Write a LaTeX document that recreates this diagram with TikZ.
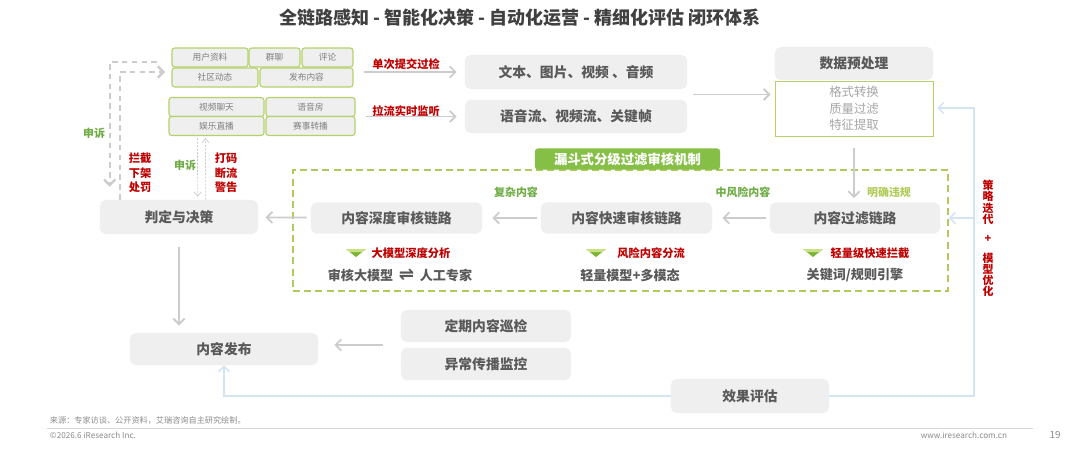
\documentclass[tikz,border=0pt]{standalone}
\usepackage{fontspec}
\setmainfont{Noto Sans CJK SC}
\newfontfamily\harpfont{DejaVu Sans}
\usetikzlibrary{arrows.meta,calc}

\definecolor{titleink}{HTML}{404040}
\definecolor{inkgray}{HTML}{595959}
\definecolor{cellink}{HTML}{7F7F7F}
\definecolor{softink}{HTML}{A6A6A6}
\definecolor{footink}{HTML}{8C8C8C}
\definecolor{boxgray}{HTML}{EFEFEF}
\definecolor{cellgreen}{HTML}{B4D16A}
\definecolor{framegreen}{HTML}{AFC95E}
\definecolor{funnelgreen}{HTML}{86BF45}
\definecolor{leafgreen}{HTML}{70AD47}
\definecolor{limegreen}{HTML}{B2CC5C}
\definecolor{alertred}{HTML}{C00000}
\definecolor{arrowgray}{HTML}{CCCCCC}
\definecolor{paleblue}{HTML}{D3E5F3}
\definecolor{chevtop}{HTML}{C9E27F}
\definecolor{chevbot}{HTML}{7AB536}

\tikzset{
  darkbox/.style={fill=boxgray, rounded corners=4pt, text=inkgray, inner sep=0pt,
    font=\fontsize{9.8}{11}\selectfont\bfseries},
  itembox/.style={fill=boxgray, draw=cellgreen, line width=0.8pt, rounded corners=2pt,
    text=cellink, inner sep=0pt, minimum height=0.475cm, font=\fontsize{6.2}{7}\selectfont},
  redtag/.style={text=alertred, align=center, font=\fontsize{8}{10.3}\selectfont\bfseries},
  greentag/.style={text=leafgreen, font=\fontsize{7.8}{9}\selectfont\bfseries},
  tooltext/.style={text=inkgray, font=\fontsize{9.3}{11}\selectfont\bfseries},
  foottext/.style={text=footink, font=\fontsize{5.8}{7}\selectfont},
  grayflow/.style={draw=arrowgray, line width=1.3pt, -{Straight Barb[length=4pt,width=8pt]}},
  backflow/.style={draw=paleblue, line width=1pt, -{Straight Barb[length=4pt,width=8pt]}},
  appealflow/.style={draw=arrowgray, line width=1.6pt, dash pattern=on 4pt off 3pt,
    -{Straight Barb[length=4pt,width=8pt]}},
  hairflow/.style={draw=arrowgray, line width=0.5pt, dash pattern=on 1.5pt off 1pt,
    -{Straight Barb[length=3pt,width=5pt]}},
  pics/chevron/.style={code={
    \fill[chevbot] (-10,-4) -- (10,-4) -- (0,4) -- cycle;
    \fill[chevtop] (-10,-4) -- (10,-4) -- (6.2,-1) -- (-6.2,-1) -- cycle;}}
}

\begin{document}
\begin{tikzpicture}[x=0.025cm, y=-0.025cm]
\fill[white] (0,0) rectangle (1080,453);
\useasboundingbox (0,0) rectangle (1080,453);

\node[text=titleink, font=\fontsize{12.8}{14}\selectfont\bfseries] (title) at (520,18)
  {全链路感知 - 智能化决策 - 自动化运营 - 精细化评估 闭环体系};

% content sources
\node[itembox, minimum width=1.9cm] (c1) at (210,57.5) {用户资料};
\node[itembox, minimum width=1.275cm] (c2) at (274.5,57.5) {群聊};
\node[itembox, minimum width=1.275cm] (c3) at (327.5,57.5) {评论};
\node[itembox, minimum width=2.15cm] (c4) at (215,77.5) {社区动态};
\node[itembox, minimum width=2.325cm] (c5) at (306.5,77.5) {发布内容};
\node[itembox, minimum width=2.375cm] (v1) at (216.5,107) {视频聊天};
\node[itembox, minimum width=2.225cm] (v2) at (310.5,107) {语音房};
\node[itembox, minimum width=2.375cm] (v3) at (216.5,126) {娱乐直播};
\node[itembox, minimum width=2.225cm] (v4) at (310.5,126) {赛事转播};

\node[redtag] (submit) at (406,64) {单次提交过检};
\node[redtag] (pull) at (406,111) {拉流实时监听};
\node[darkbox, minimum width=5.55cm, minimum height=0.85cm] (media) at (576,72) {文本、图片、视频 、音频};
\node[darkbox, minimum width=5.55cm, minimum height=0.825cm] (streams) at (576,116.5) {语音流、视频流、关键帧};
\draw[grayflow, shorten <=0.25cm, shorten >=0.2cm] (c3.east |- media.west) -- (media.west);
\draw[grayflow, shorten <=0.25cm, shorten >=0.2cm] (v4.east |- streams.west) -- (streams.west);

% preprocessing
\node[darkbox, minimum width=3.95cm, minimum height=0.825cm] (prep) at (854,63.5) {数据预处理};
\node[draw=cellgreen, fill=white, line width=0.6pt, minimum width=3.95cm, minimum height=1.375cm,
  inner sep=0pt, align=center, text=softink, font=\fontsize{8.8}{11.7}\selectfont] (prepbody) at (854,108.5)
  {格式转换\\质量过滤\\特征提取};
\coordinate (mid) at ($(media.south east)!0.5!(streams.north east)$);
\draw[grayflow, shorten <=0.15cm, shorten >=0.1cm] (mid) -- (mid -| prepbody.west);

% funnel review
\node[draw=framegreen, line width=1pt, dash pattern=on 5pt off 3pt, minimum width=16.375cm,
  minimum height=3.025cm, inner sep=0pt] (frame) at (620.5,230.5) {};
\node[fill=funnelgreen, rounded corners=2pt, text=white, inner sep=0pt, minimum width=4.625cm,
  minimum height=0.525cm, font=\fontsize{9.5}{11}\selectfont\bfseries] (funnel) at (627.5,159) {漏斗式分级过滤审核机制};

\node[darkbox, minimum width=4.25cm, minimum height=0.775cm] (filter) at (855,218) {内容过滤链路};
\node[darkbox, minimum width=4.275cm, minimum height=0.775cm] (fast) at (626.5,218) {内容快速审核链路};
\node[darkbox, minimum width=4.275cm, minimum height=0.775cm] (deep) at (396.5,218) {内容深度审核链路};
\node[darkbox, minimum width=3.95cm, minimum height=0.85cm] (decide) at (179,217) {判定与决策};
\draw[grayflow, shorten <=0.3cm, shorten >=0.1cm] (prepbody.south) -- (prepbody.south |- filter.north);
\draw[grayflow, shorten <=0.1cm, shorten >=0.25cm] (filter) -- (fast);
\draw[grayflow, shorten <=0.1cm, shorten >=0.25cm] (fast) -- (deep);
\draw[grayflow, shorten <=0.1cm, shorten >=0.18cm] (deep) -- (decide);

\node[greentag] (complex) at (516,192) {复杂内容};
\node[greentag] (midrisk) at (743,192) {中风险内容};
\node[greentag, text=limegreen] (clear) at (889,192) {明确违规};

\pic at (813,253) {chevron}; \node[redtag] (quickblock) at (870,253) {轻量级快速拦截};
\pic at (596,253) {chevron}; \node[redtag] (triage) at (651,253) {风险内容分流};
\pic at (356,253) {chevron}; \node[redtag] (deepscan) at (411,253) {大模型深度分析};
\node[tooltext] (rules) at (855,275) {关键词/规则引擎};
\node[tooltext] (light) at (630,275) {轻量模型+多模态};
\node[tooltext] (hybrid) at (400,275)
  {审核大模型\hspace{4pt}{\harpfont\fontsize{13}{11}\selectfont ⇌}\hspace{4pt}人工专家};

% decisions and appeals
\coordinate (a1) at (157,62);
\coordinate (a2) at (165,72);
\draw[appealflow] (a1) -| ($(decide.north west)+(10,-13)$);
\draw[appealflow] ($(decide.north west)+(20,0)$) |- (a2);
\draw[hairflow] ($(v3.south west)+(29,2)$) -- ($(decide.north west)+(98,-3)$);
\draw[hairflow] ($(decide.north west)+(106,0)$) -- ($(v3.south west)+(37,2)$);
\node[greentag] (appealout) at (94,133) {申诉};
\node[redtag] (punish) at (140,173) {拦截\\下架\\处罚};
\node[greentag] (appealin) at (185,165) {申诉};
\node[redtag] (mask) at (226,173) {打码\\断流\\警告};

% publishing and evaluation
\node[darkbox, minimum width=4.7cm, minimum height=0.8cm] (publish) at (224,349) {内容发布};
\node[darkbox, minimum width=4.25cm, minimum height=0.8cm] (patrol) at (486,326) {定期内容巡检};
\node[darkbox, minimum width=4.25cm, minimum height=0.8cm] (monitor) at (486,364) {异常传播监控};
\node[darkbox, minimum width=3.95cm, minimum height=0.85cm] (evaluate) at (750,396) {效果评估};
\draw[grayflow, shorten <=0.325cm, shorten >=0.18cm] (decide.south) -- (decide.south |- publish.north);
\coordinate (pm) at ($(patrol.south west)!0.5!(monitor.north west)$);
\draw[grayflow, shorten <=0.45cm, shorten >=0.4cm] (pm) -- (pm -| publish.east);

\coordinate (rail) at (974,108);
\draw[backflow, shorten >=0.1cm] (evaluate.east) -| (rail) -- (rail -| prepbody.east);
\draw[backflow] (rail |- filter.east) -- (filter.east -| frame.east);
\draw[backflow] (evaluate.west) -| (publish.south);
\node[redtag, font=\fontsize{7.8}{7.9}\selectfont\bfseries] (tune) at (988,238.5)
  {策\\略\\迭\\代\\[6pt]+\\[6pt]模\\型\\优\\化};

% footer
\draw[draw=black!15, line width=0.6pt] (47,428) -- (1033,428);
\node[foottext, anchor=west] (source) at (45,420) {来源：专家访谈、公开资料，艾瑞咨询自主研究绘制。};
\node[foottext, anchor=west] (copy) at (45,435) {©2026.6 iResearch Inc.};
\node[foottext, anchor=east] (site) at (1012,435) {www.iresearch.com.cn};
\node[foottext, font=\fontsize{7}{8}\selectfont] (page) at (1055,435) {19};
\end{tikzpicture}
\end{document}
